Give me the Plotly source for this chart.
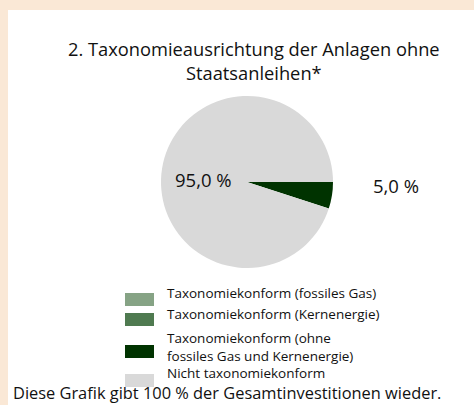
import plotly.graph_objects as go

# ---- data ----
categories = [
    "Taxonomiekonform (fossiles Gas)",
    "Taxonomiekonform (Kernenergie)",
    "Taxonomiekonform (ohne<br>fossiles Gas und Kernenergie)",
    "Nicht taxonomiekonform",
]
values = [0.0, 0.0, 5.0, 95.0]
colors = ["#86A385", "#4F7A50", "#003300", "#D9D9D9"]
title_text = "2. Taxonomieausrichtung der Anlagen ohne<br>Staatsanleihen*"
footer_text = "Diese Grafik gibt 100 % der Gesamtinvestitionen wieder."

W, H = 474, 405
FONT = "Open Sans"


def px(x):
    return x / W


def py(y):
    return 1 - y / H


def fmt(v):
    return f"{v:.1f}".replace(".", ",") + " %"


fig = go.Figure()
fig.add_trace(go.Pie(
    labels=categories,
    values=values,
    marker=dict(colors=colors, line=dict(width=0)),
    sort=False,
    direction="clockwise",
    rotation=90,
    textinfo="none",
    hoverinfo="label+percent",
    showlegend=False,
    domain=dict(x=[px(161), px(333)], y=[py(268), py(96)]),
))

shapes = [
    dict(type="rect", xref="paper", yref="paper", x0=px(8), x1=1, y0=0, y1=py(10),
         fillcolor="white", line=dict(width=0), layer="below"),
]
annotations = [
    dict(text=title_text, x=px(254), y=py(60), xref="paper", yref="paper",
         xanchor="center", yanchor="middle", showarrow=False,
         font=dict(family=FONT, size=18.3, color="#111111")),
    dict(text=fmt(values[3]), x=px(203), y=py(179), xref="paper", yref="paper",
         xanchor="center", yanchor="middle", showarrow=False,
         font=dict(family=FONT, size=18.5, color="#111111")),
    dict(text=fmt(values[2]), x=px(396), y=py(185), xref="paper", yref="paper",
         xanchor="center", yanchor="middle", showarrow=False,
         font=dict(family=FONT, size=18.5, color="#111111")),
    dict(text=footer_text, x=px(12), y=0, xref="paper", yref="paper",
         xanchor="left", yanchor="bottom", showarrow=False, borderpad=0,
         font=dict(family=FONT, size=16.4, color="#111111")),
]

# legend (custom layout)
box_tops = [293, 313, 345, 374]
text_centers = [293, 314, 347, 373]
for cat, col, bt, tc in zip(categories, colors, box_tops, text_centers):
    shapes.append(dict(type="rect", xref="paper", yref="paper",
                       x0=px(125), x1=px(154), y0=py(bt + 13), y1=py(bt),
                       fillcolor=col, line=dict(width=0), layer="below"))
    annotations.append(dict(text=cat, x=px(166), y=py(tc), xref="paper", yref="paper",
                            xanchor="left", yanchor="middle", align="left",
                            showarrow=False, borderpad=0,
                            font=dict(family=FONT, size=13.5, color="#111111")))

fig.update_layout(
    width=W, height=H,
    margin=dict(l=0, r=0, t=0, b=0),
    paper_bgcolor="#FAE8D6",
    plot_bgcolor="white",
    shapes=shapes,
    annotations=annotations,
    showlegend=False,
)

fig.write_html("out.html",
               config={"displayModeBar": False},
               post_script="document.body.style.margin='0';document.body.style.overflow='hidden';")
